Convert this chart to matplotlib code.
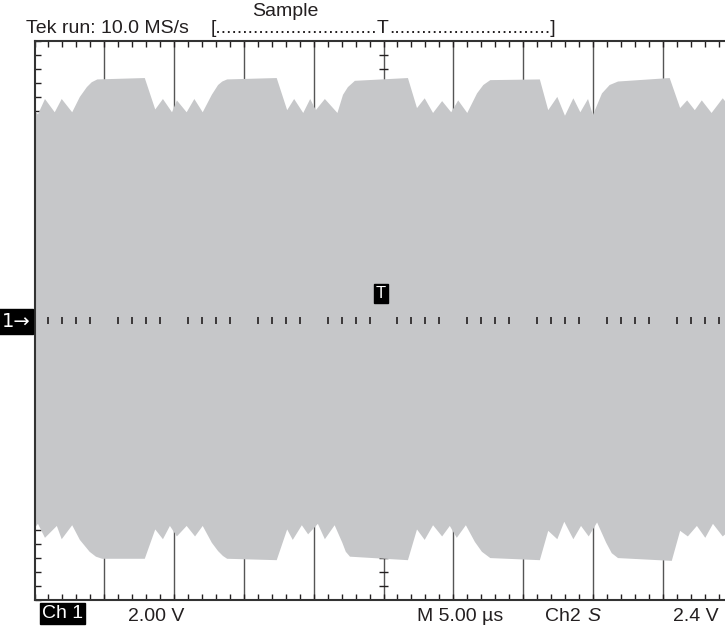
import matplotlib as mpl
mpl.use('Agg')
from matplotlib import pyplot as plt
from matplotlib import transforms
import numpy as np

# Fonts
mpl.rc('font', family=['Liberation Sans', 'DejaVu Sans'], size=14)

# Envelope of the signal, screen divisions (x: 0..10, y: -4..4)
top_x = [0.00, 0.05, 0.15, 0.29, 0.39, 0.54, 0.65, 0.75, 0.82, 0.90,
         1.58, 1.73, 1.84, 1.97, 2.04, 2.18, 2.29, 2.41, 2.54, 2.63, 2.69, 2.76,
         3.47, 3.62, 3.72, 3.85, 3.95, 4.03, 4.16, 4.34, 4.42, 4.49, 4.59,
         5.35, 5.48, 5.59, 5.71, 5.84, 5.97, 6.07, 6.20, 6.34, 6.43, 6.53,
         7.24, 7.36, 7.49, 7.60, 7.72, 7.82, 7.93, 8.00, 8.13, 8.24, 8.36,
         9.10, 9.25, 9.35, 9.46, 9.56, 9.70, 9.86, 10.0]
top_y = [3.01, 2.95, 3.17, 2.98, 3.17, 2.98, 3.20, 3.34, 3.41, 3.45,
         3.47, 3.02, 3.17, 2.98, 3.15, 2.98, 3.17, 2.98, 3.23, 3.37, 3.42, 3.45,
         3.47, 3.01, 3.17, 2.97, 3.17, 3.01, 3.17, 2.97, 3.23, 3.34, 3.43,
         3.47, 3.04, 3.18, 2.97, 3.14, 2.98, 3.15, 2.97, 3.25, 3.37, 3.44,
         3.45, 3.01, 3.20, 2.93, 3.18, 2.98, 3.17, 2.94, 3.25, 3.37, 3.42,
         3.47, 3.04, 3.15, 3.01, 3.15, 2.97, 3.18, 3.01]

bot_x = [0.00, 0.05, 0.15, 0.32, 0.39, 0.54, 0.65, 0.79, 0.88, 0.97,
         1.58, 1.73, 1.84, 1.94, 2.04, 2.18, 2.30, 2.41, 2.54, 2.63, 2.70, 2.76,
         3.47, 3.62, 3.70, 3.83, 3.92, 4.06, 4.16, 4.30, 4.41, 4.46, 4.52,
         5.35, 5.48, 5.59, 5.71, 5.84, 5.95, 6.05, 6.18, 6.31, 6.41, 6.53,
         7.24, 7.36, 7.49, 7.59, 7.72, 7.83, 7.94, 8.06, 8.19, 8.27, 8.36,
         9.13, 9.25, 9.36, 9.49, 9.61, 9.72, 9.86, 10.0]
bot_y = [-2.97, -2.91, -3.11, -2.94, -3.13, -2.93, -3.14, -3.31, -3.38, -3.41,
         -3.41, -2.99, -3.13, -2.94, -3.09, -2.94, -3.09, -2.94, -3.18, -3.30, -3.37, -3.41,
         -3.43, -2.99, -3.14, -2.93, -3.06, -2.91, -3.13, -2.93, -3.18, -3.31, -3.38,
         -3.43, -2.99, -3.14, -2.93, -3.09, -2.94, -3.11, -2.93, -3.17, -3.31, -3.40,
         -3.43, -3.01, -3.13, -2.88, -3.13, -2.94, -3.09, -2.89, -3.18, -3.33, -3.40,
         -3.44, -3.01, -3.09, -2.94, -3.11, -2.91, -3.09, -2.97]

trigger_pos = 4.96
trigger_level = 0.39

gray = '#c6c7c9'
ink = '#231f20'

fig = plt.figure(figsize=(7.25, 6.28), dpi=100)
# graticule runs a bit past the right edge of the picture
ax = fig.add_axes([34.5 / 725, 28 / 628, 698 / 725, 559 / 628])
ax.set_xlim(0, 10)
ax.set_ylim(-4, 4)

# signal envelope (covers ticks and grid, not the frame)
ax.fill(np.concatenate([top_x, bot_x[::-1]]), np.concatenate([top_y, bot_y[::-1]]),
        color=gray, lw=0, zorder=2)

# vertical division lines
for xd in range(1, 10):
    ax.axvline(xd, color='#555555', lw=1, zorder=1.5)

minor = np.arange(0.2, 10, 0.2)
minor = minor[np.abs(minor - np.round(minor)) > 0.01]
ymin = np.arange(-3.8, 4, 0.2)

# centre cross ticks (under the envelope)
ax.hlines(ymin, 4.94, 5.06, color=ink, lw=1, zorder=1.5)
# midline ticks (on top)
ax.vlines(minor, -0.05, 0.05, color=ink, lw=1.2, zorder=3)

ax.set_xticks(np.arange(0, 11, 1))
ax.set_yticks(np.arange(-4, 5, 1))
ax.set_xticks(np.arange(0, 10.01, 0.2), minor=True)
ax.set_yticks(np.arange(-4, 4.01, 0.2), minor=True)
ax.tick_params(which='both', direction='in', top=True, right=True,
               length=4.5, width=1, color=ink,
               labelbottom=False, labelleft=False)
for s in ax.spines.values():
    s.set_color('#333333')
    s.set_linewidth(1.5)
    s.set_zorder(2.5)

# markers
bl = transforms.blended_transform_factory(ax.transAxes, ax.transData)
ax.text(-0.006, -0.02, '1\u2192', transform=bl, ha='right', va='center', color='white',
        fontsize=14, family=['DejaVu Sans'], clip_on=False, zorder=5,
        bbox=dict(boxstyle='square,pad=0.15', fc='black', ec='black'))
ax.text(trigger_pos, trigger_level, 'T', ha='center', va='center', color='white',
        fontsize=12, zorder=5,
        bbox=dict(boxstyle='square,pad=0.12', fc='black', ec='black'))

# header
def ftext(x, y, s, **kw):
    fig.text(x / 725, 1 - y / 628, s, va='baseline', color=ink, **kw)

ftext(26, 33, 'Tek run: 10.0 MS/s')
ftext(252, 16, 'Sample')
ftext(377, 33, '[' + '.' * 30, ha='right')
ftext(383, 33, 'T', ha='center')
ftext(389, 33, '.' * 30 + ']', ha='left')

# footer
fig.text(42 / 725, 1 - 618 / 628, 'Ch 1', va='baseline', color='white',
         bbox=dict(boxstyle='square,pad=0.1', fc='black', ec='black'))
ftext(128, 621, '2.00 V')
ftext(417, 621, 'M 5.00 \u00b5s')
ftext(545, 621, 'Ch2')
ftext(587, 621, 'S', style='italic')
ftext(673, 621, '2.4 V')

fig.savefig('out.png', dpi=100)
